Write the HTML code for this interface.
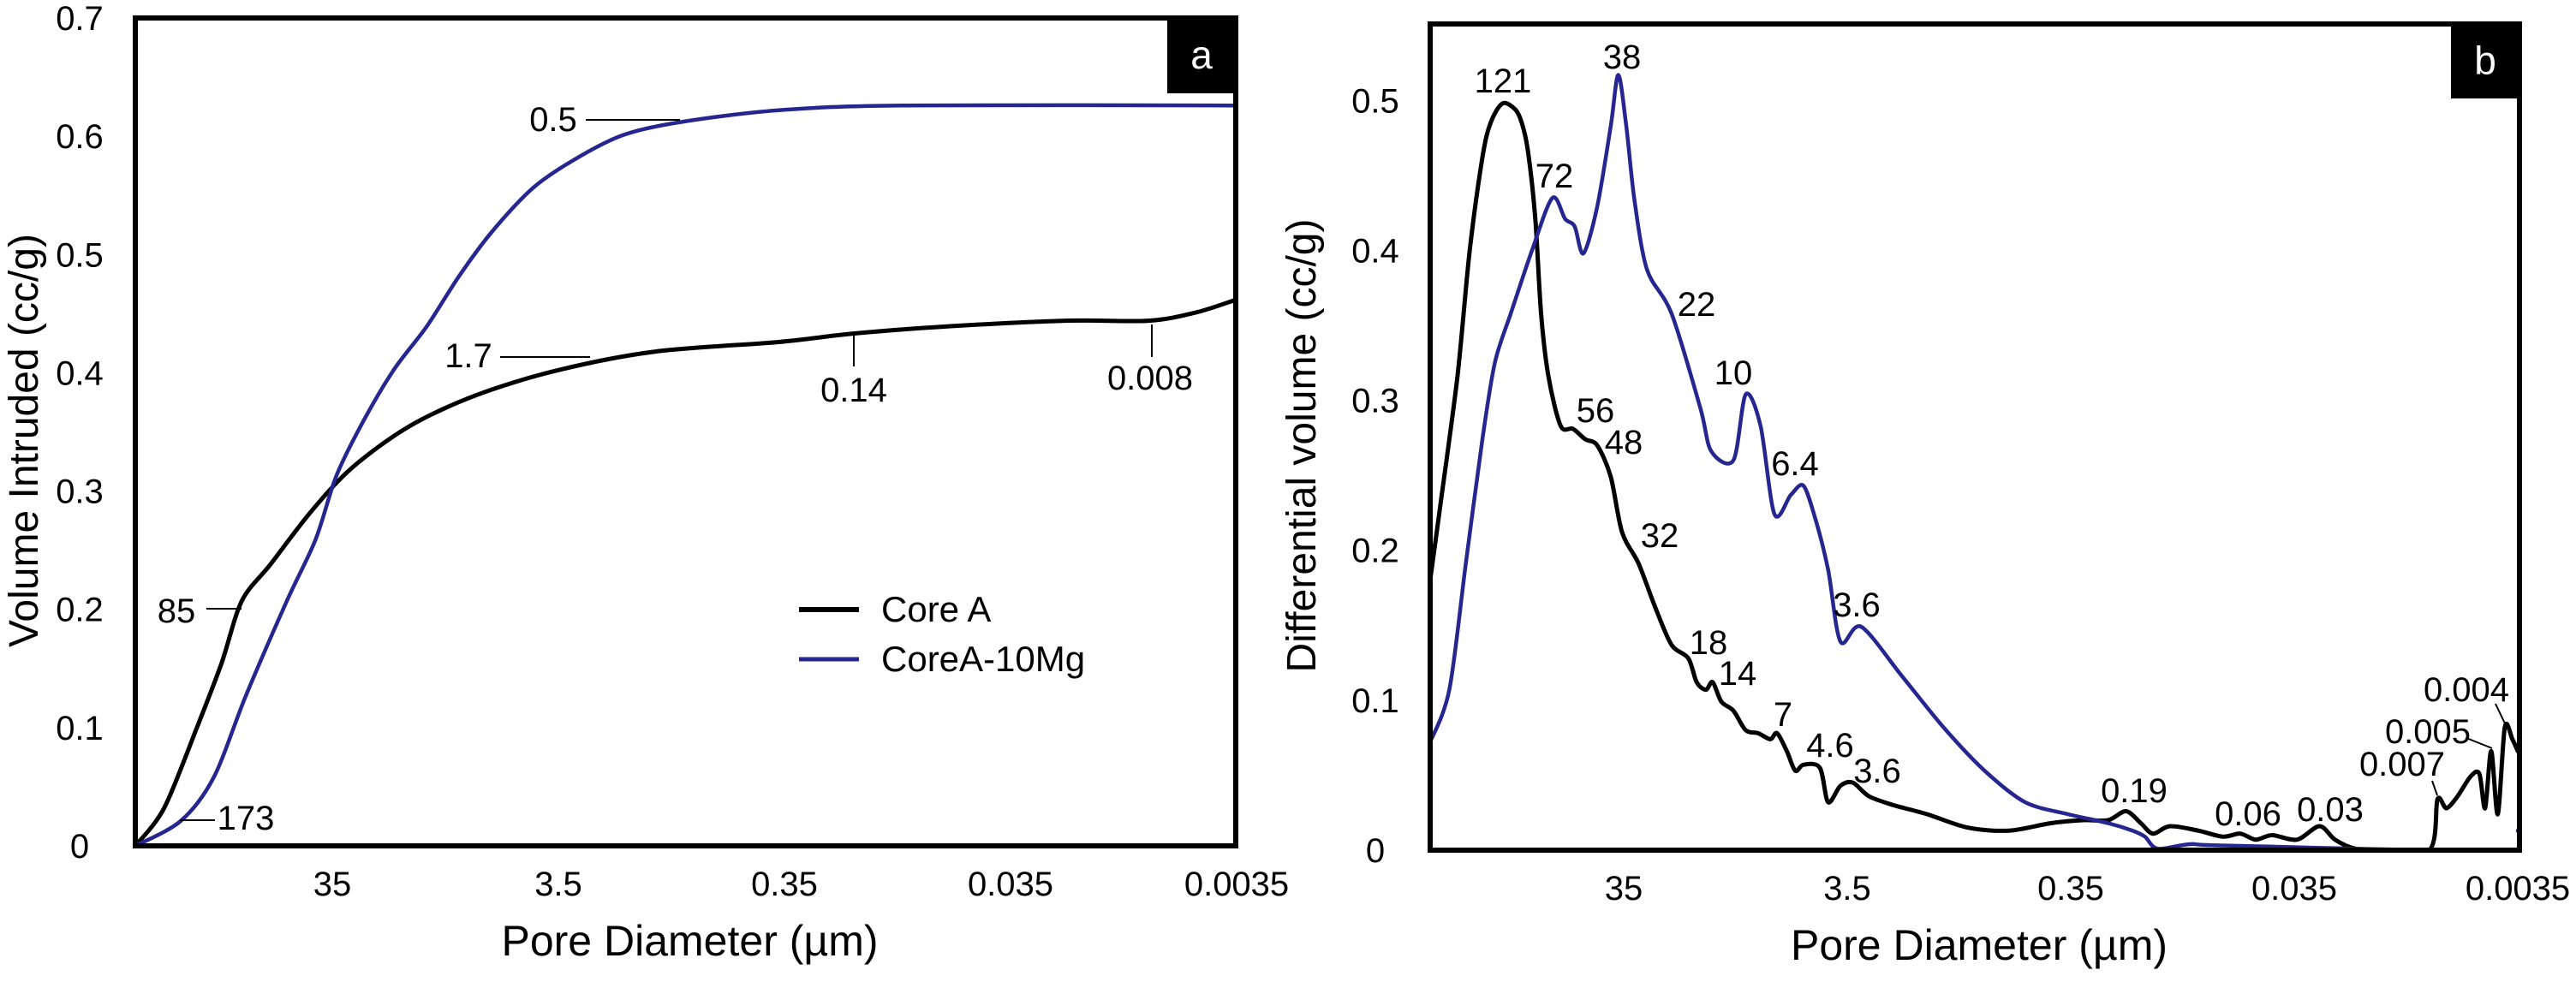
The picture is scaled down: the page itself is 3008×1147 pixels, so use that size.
<!DOCTYPE html>
<html><head><meta charset="utf-8"><style>
html,body{margin:0;padding:0;background:#fff;}
svg{display:block;font-family:"Liberation Sans",Arial,sans-serif;}
</style></head><body>
<svg id="fig" width="3008" height="1147" viewBox="0 0 3008 1147" xmlns="http://www.w3.org/2000/svg">
<defs>
<clipPath id="clipa"><rect x="158" y="21" width="1285" height="967"/></clipPath>
<clipPath id="clipb"><rect x="1670" y="28" width="1272" height="965"/></clipPath>
</defs>
<g id="pa"></g>
<g id="pb"></g>
</svg>
<script>
// ---------- Panel a data (cumulative intrusion) ----------
const aCoreD = [260,194,139,108.3,88,65.7,43.3,28.5,15.9,8.1,3.55,1.30,0.372,0.176,0.070,0.0201,0.0086,0.0053,0.00362];
const aCoreV = [0,0.032,0.10,0.154,0.207,0.238,0.283,0.320,0.355,0.381,0.402,0.418,0.426,0.433,0.439,0.444,0.444,0.451,0.461];
const aMgD = [260,164,117,84.4,55.6,41.5,33.7,26.2,18.8,13.4,9.6,6.9,4.55,2.99,1.81,1.01,0.372,0.106,0.00362];
const aMgV = [0,0.021,0.058,0.127,0.207,0.259,0.312,0.355,0.402,0.439,0.482,0.519,0.556,0.580,0.601,0.612,0.622,0.626,0.626];
const aYTicks = [0,0.1,0.2,0.3,0.4,0.5,0.6,0.7];
const xTickVals = [35,3.5,0.35,0.035,0.0035];
const xTickLabels = ["35","3.5","0.35","0.035","0.0035"];
// ---------- Panel b data (differential) ----------
const bCoreD = [257,230,194,171,150,138,122,107,100,94,87,82,76,67,59,52,46,40,35.6,30.0,25.3,21.4,18.0,16.5,15.0,14.0,12.8,11.3,9.96,8.77,7.73,7.21,6.52,5.98,5.49,4.64,4.26,3.75,3.30,2.80,2.17,1.54,1.01,0.66,0.43,0.31,0.238,0.198,0.170,0.150,0.126,0.094,0.073,0.061,0.052,0.044,0.034,0.027,0.023,0.0187,0.0145,0.0087,0.0080,0.0073,0.0065,0.0057,0.0052,0.0049,0.0046,0.0043,0.0040,0.0037,0.0035];
const bCoreV = [0.180,0.233,0.316,0.400,0.462,0.485,0.498,0.494,0.485,0.467,0.421,0.358,0.316,0.283,0.281,0.274,0.270,0.249,0.212,0.191,0.162,0.137,0.128,0.112,0.107,0.112,0.099,0.093,0.080,0.078,0.074,0.078,0.066,0.053,0.057,0.055,0.032,0.043,0.045,0.036,0.030,0.024,0.015,0.013,0.018,0.020,0.020,0.026,0.018,0.011,0.016,0.013,0.009,0.011,0.007,0.010,0.007,0.016,0.007,0.001,0,0,0.034,0.028,0.036,0.049,0.051,0.028,0.066,0.024,0.082,0.074,0.066];
const bMgD = [257,211,178,150,132,112,90,73,64,58,53,46,40,37,34.1,31.3,27.5,21.4,15.9,14.2,11.3,9.96,8.55,7.40,6.25,5.49,4.84,4.26,3.75,3.03,1.99,1.30,0.85,0.56,0.36,0.238,0.185,0.163,0.143,0.102,0.067,0.0037,0.0035];
const bMgV = [0.072,0.107,0.191,0.274,0.325,0.358,0.400,0.435,0.421,0.416,0.398,0.429,0.483,0.517,0.483,0.433,0.387,0.358,0.295,0.266,0.260,0.304,0.283,0.224,0.237,0.243,0.220,0.187,0.139,0.149,0.116,0.082,0.053,0.032,0.024,0.018,0.013,0.009,0.001,0.004,0.003,0,0.013];
const bYTicks = [0,0.1,0.2,0.3,0.4,0.5];

const NS="http://www.w3.org/2000/svg";
function mk(parent,tag,attrs,text){const e=document.createElementNS(NS,tag);for(const k in attrs)e.setAttribute(k,attrs[k]);if(text!==undefined)e.textContent=text;parent.appendChild(e);return e;}

function smoothPath(p){
  let d="M"+p[0][0].toFixed(1)+","+p[0][1].toFixed(1);
  for(let i=0;i<p.length-1;i++){
    const p0=p[Math.max(0,i-1)],p1=p[i],p2=p[i+1],p3=p[Math.min(p.length-1,i+2)];
    const t=0.15;
    const c1=[p1[0]+(p2[0]-p0[0])*t,p1[1]+(p2[1]-p0[1])*t];
    const c2=[p2[0]-(p3[0]-p1[0])*t,p2[1]-(p3[1]-p1[1])*t];
    d+=` C${c1[0].toFixed(1)},${c1[1].toFixed(1)} ${c2[0].toFixed(1)},${c2[1].toFixed(1)} ${p2[0].toFixed(1)},${p2[1].toFixed(1)}`;
  }
  return d;
}

function panel(g, box, ref35x, decadePx, ymax, yTicks, series, ytitle, ytitleX, tickLabelX, letter, clip){
  const xs=d=>ref35x+(Math.log10(35)-Math.log10(d))*decadePx;
  const ys=v=>box.b-(v/ymax)*(box.b-box.t);
  const cg=mk(g,"g",{"clip-path":`url(#${clip})`});
  
  
  series.forEach(s=>{
    const pts=s.d.map((d,i)=>[xs(d),ys(s.v[i])]);
    const pl=mk(cg,"path",{d:smoothPath(pts),fill:"none",stroke:s.color,"stroke-width":s.w,"stroke-linejoin":"round","stroke-linecap":"round"});
    
    
  });
  const fr=mk(g,"rect",{x:box.l,y:box.t,width:box.r-box.l,height:box.b-box.t,fill:"none",stroke:"#000","stroke-width":6});
  
  
  const lb=mk(g,"rect",{x:box.r-80,y:box.t,width:80,height:letter.h,fill:"#000"});
  
  
  const lt=mk(g,"text",{x:box.r-40,y:box.t+letter.h/2+15,"text-anchor":"middle","font-size":46,fill:"#fff"},letter.t);
  
  
  yTicks.forEach(v=>{
    const t=mk(g,"text",{x:tickLabelX,y:ys(v)+14,"text-anchor":"middle","font-size":40,fill:"#000"},String(v));
    
    
  });
  xTickVals.forEach((v,i)=>{
    const t=mk(g,"text",{x:xs(v),y:box.b+58,"text-anchor":"middle","font-size":40,fill:"#000"},xTickLabels[i]);
    
    
  });
  const yt=mk(g,"text",{x:0,y:0,"text-anchor":"middle","font-size":48,fill:"#000",transform:`translate(${ytitleX},${(box.t+box.b)/2+10}) rotate(-90)`},ytitle);
  
  
  const xt=mk(g,"text",{x:(box.l+box.r)/2+5,y:box.b+128,"text-anchor":"middle","font-size":50,fill:"#000"},"Pore Diameter (\u00b5m)");
  
  
  return {xs,ys};
}

const BLUE="#262690";
const pa=document.getElementById("pa");
panel(pa,{l:158,r:1443,t:21,b:988},388,264,0.7,aYTicks,
  [{d:aCoreD,v:aCoreV,color:"#000",w:5,name:"core-a-curve"},{d:aMgD,v:aMgV,color:BLUE,w:4.5,name:"corea-10mg-curve"}],
  "Volume Intruded (cc/g)",44,93,{t:"a",h:88},"clipa");
const pb=document.getElementById("pb");
panel(pb,{l:1670,r:2942,t:28,b:993},1896,261,0.551,bYTicks,
  [{d:bCoreD,v:bCoreV,color:"#000",w:5,name:"core-a-curve"},{d:bMgD,v:bMgV,color:BLUE,w:4.5,name:"corea-10mg-curve"}],
  "Differential volume (cc/g)",1536,1606,{t:"b",h:87},"clipb");

function ann(g,x,y,t){const e=mk(g,"text",{x:x,y:y+14,"text-anchor":"middle","font-size":40,fill:"#000"},t);
  
  }
function lead(g,x1,y1,x2,y2){const e=mk(g,"line",{x1:x1,y1:y1,x2:x2,y2:y2,stroke:"#000","stroke-width":2});
  
  }
ann(pa,646,139,"0.5"); lead(pa,684,140,794,140);
ann(pa,547,415,"1.7"); lead(pa,584,417,689,417);
ann(pa,997,455,"0.14"); lead(pa,997,391,997,428);
ann(pa,1343,441,"0.008"); lead(pa,1345,379,1345,417);
ann(pa,206,713,"85"); lead(pa,241,711,282,711);
ann(pa,287,955,"173"); lead(pa,210,958,251,958);
const lg=mk(pa,"g",{});


lead(lg,933,712,1003,712); lg.lastChild.setAttribute("stroke-width",6);
const l2=mk(lg,"line",{x1:933,y1:770,x2:1003,y2:770,stroke:BLUE,"stroke-width":5});


const t1=mk(lg,"text",{x:1029,y:726,"font-size":42},"Core A");


const t2=mk(lg,"text",{x:1029,y:784,"font-size":42},"CoreA-10Mg");



[[1755,94,"121"],[1894,66,"38"],[1815,205,"72"],[1981,355,"22"],[2024,435,"10"],[1863,479,"56"],[1896,516,"48"],[2096,541,"6.4"],[1938,625,"32"],[2168,706,"3.6"],[1995,750,"18"],[2029,786,"14"],[2082,834,"7"],[2137,870,"4.6"],[2192,900,"3.6"],[2492,923,"0.19"],[2625,950,"0.06"],[2721,945,"0.03"],[2805,892,"0.007"],[2835,854,"0.005"],[2880,805,"0.004"]].forEach(a=>ann(pb,a[0],a[1],a[2]));
lead(pb,2914,822,2925,845); lead(pb,2880,862,2910,874); lead(pb,2840,912,2846,929);
</script>
</body></html>
